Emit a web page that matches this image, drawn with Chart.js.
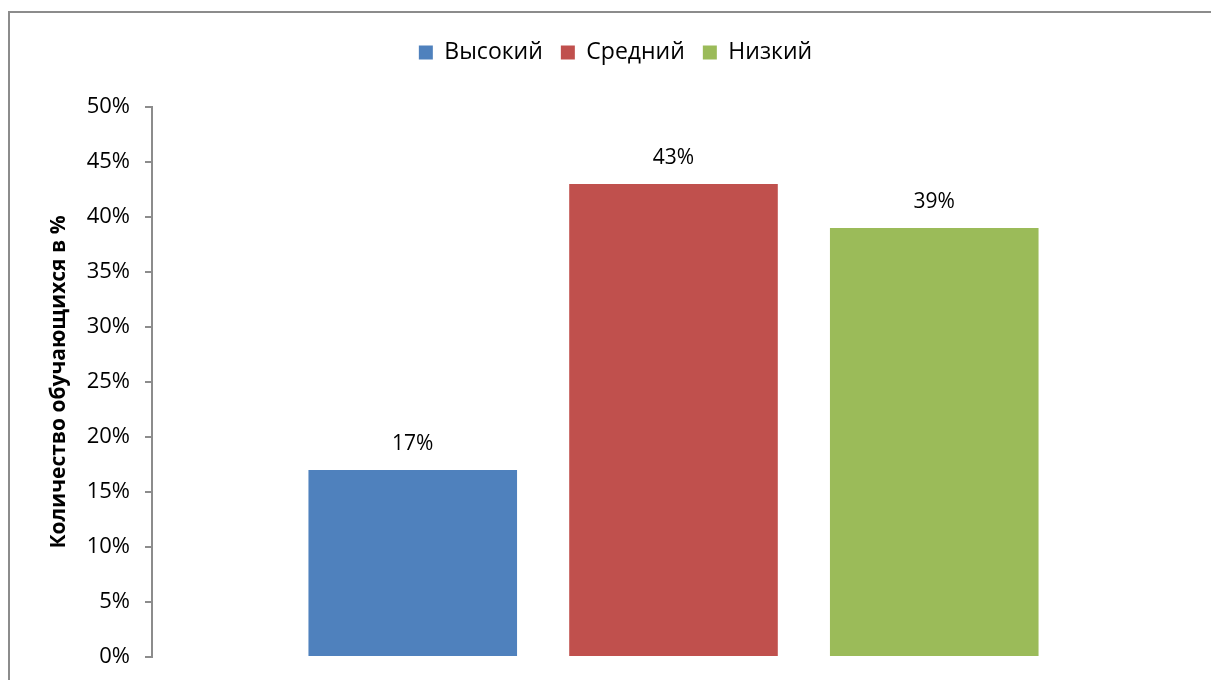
<!DOCTYPE html>
<html>
<head>
<meta charset="utf-8">
<script src="https://cdn.jsdelivr.net/npm/chart.js@4/dist/chart.umd.min.js"></script>
<style>
    body { margin: 0; overflow: hidden; background: #fff; }
    #frame {
        position: absolute; left: 8px; top: 11px;
        width: 1230px; height: 720px;
        border: 2px solid #8c8c8c;
    }
    #wrap { position: absolute; left: 0; top: 0; width: 1211px; height: 680px; }
</style>
</head>
<body>
<div id="frame"></div>
<div id="wrap"><canvas id="myChart"></canvas></div>
<script>
// data
const seriesNames = ['Высокий', 'Средний', 'Низкий'];
const seriesValues = [17, 43, 39];
const seriesColors = ['#4F81BD', '#C0504D', '#9BBB59'];
const categories = [''];
const yTicks = [0, 5, 10, 15, 20, 25, 30, 35, 40, 45, 50];

const FONT = "'Open Sans', 'Noto Sans', sans-serif";

// value labels above bars
const valueLabels = {
    id: 'valueLabels',
    afterDatasetsDraw(chart) {
        const c = chart.ctx;
        c.save();
        c.font = '21px ' + FONT;
        c.fillStyle = '#000';
        c.textAlign = 'center';
        c.textBaseline = 'middle';
        chart.data.datasets.forEach((ds, i) => {
            chart.getDatasetMeta(i).data.forEach((bar, j) => {
                c.fillText(ds.data[j] + '%', bar.x, bar.y - 26);
            });
        });
        c.restore();
    }
};

// extra space below the legend
const legendGap = {
    id: 'legendGap',
    beforeInit(chart) {
        const origFit = chart.legend.fit;
        chart.legend.fit = function () {
            origFit.bind(chart.legend)();
            this.height += 33;
        };
    }
};

const ctx = document.getElementById('myChart').getContext('2d');

new Chart(ctx, {
    type: 'bar',
    data: {
        labels: categories,
        datasets: seriesNames.map((name, i) => ({
            label: name,
            data: [seriesValues[i]],
            backgroundColor: seriesColors[i],
            borderWidth: 0,
            categoryPercentage: 0.75,
            barPercentage: 0.80
        }))
    },
    options: {
        responsive: true,
        maintainAspectRatio: false,
        animation: false,
        layout: {
            padding: { left: 36, right: 16, top: 23, bottom: 23 }
        },
        plugins: {
            tooltip: { enabled: false },
            legend: {
                display: true,
                position: 'top',
                labels: {
                    color: '#000',
                    font: { family: FONT, size: 23 },
                    boxWidth: 14,
                    boxHeight: 14,
                    padding: 18
                }
            }
        },
        scales: {
            x: {
                display: false
            },
            y: {
                min: 0,
                max: 50,
                afterBuildTicks: (scale) => {
                    scale.ticks = yTicks.map(v => ({ value: v }));
                },
                afterFit: (scale) => {
                    scale.width = 152 - 36;
                    scale.paddingBottom = 0;
                },
                ticks: {
                    color: '#000',
                    font: { family: FONT, size: 22 },
                    padding: 15,
                    callback: (v) => v + '%'
                },
                grid: {
                    drawOnChartArea: false,
                    drawTicks: true,
                    tickLength: 7,
                    color: '#8c8c8c',
                    lineWidth: 2
                },
                border: {
                    display: true,
                    color: '#8c8c8c',
                    width: 2
                },
                title: {
                    display: true,
                    text: 'Количество обучающихся в %',
                    color: '#000',
                    font: { family: FONT, size: 21, weight: 'bold' },
                    padding: { top: 10, bottom: 0 }
                }
            }
        }
    },
    plugins: [valueLabels, legendGap]
});
</script>
</body>
</html>
